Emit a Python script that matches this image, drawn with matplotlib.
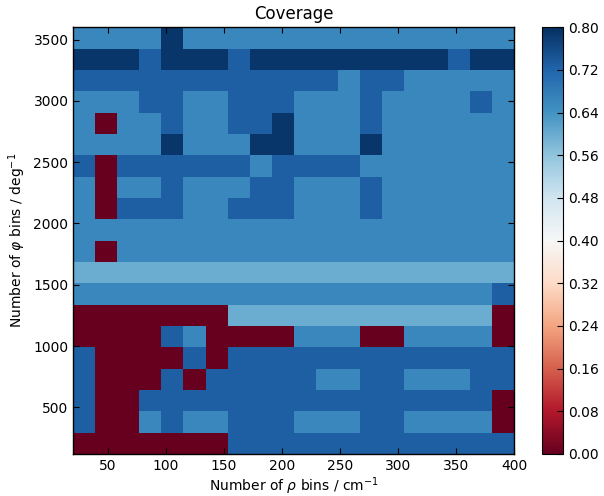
import matplotlib
matplotlib.use('Agg')
import matplotlib.pyplot as plt
import numpy as np

# bin edges of the scan
rho_edges = np.linspace(20, 400, 21)
phi_edges = np.linspace(120, 3600, 21)

# coverage levels found in the scan
R = 0.0
L = 0.60
M = 0.66
D = 0.73
N = 0.79

# rows listed from the largest phi bin count down to the smallest
coverage_rows = [
    [M, M, M, M, N, M, M, M, M, M, M, M, M, M, M, M, M, M, M, M],
    [N, N, N, D, N, N, N, D, N, N, N, N, N, N, N, N, N, D, N, N],
    [D, D, D, D, D, D, D, D, D, D, D, D, M, D, D, M, M, M, M, M],
    [M, M, M, D, D, M, M, D, D, D, M, M, M, D, M, M, M, M, D, M],
    [M, R, M, M, D, M, M, D, D, N, M, M, M, D, M, M, M, M, M, M],
    [M, M, M, M, N, M, M, M, N, N, M, M, M, N, M, M, M, M, M, M],
    [D, R, D, D, D, D, D, D, M, D, D, D, D, M, M, M, M, M, M, M],
    [M, R, M, M, D, M, M, M, D, D, M, M, M, D, M, M, M, M, M, M],
    [M, R, D, D, D, M, M, D, D, D, M, M, M, D, M, M, M, M, M, M],
    [M, M, M, M, M, M, M, M, M, M, M, M, M, M, M, M, M, M, M, M],
    [M, R, M, M, M, M, M, M, M, M, M, M, M, M, M, M, M, M, M, M],
    [L, L, L, L, L, L, L, L, L, L, L, L, L, L, L, L, L, L, L, L],
    [M, M, M, M, M, M, M, M, M, M, M, M, M, M, M, M, M, M, M, D],
    [R, R, R, R, R, R, R, L, L, L, L, L, L, L, L, L, L, L, L, R],
    [R, R, R, R, D, M, R, R, R, R, M, M, M, R, R, M, M, M, M, R],
    [D, R, R, R, R, D, R, D, D, D, D, D, D, D, D, D, D, D, D, D],
    [D, R, R, R, D, R, D, D, D, D, D, M, M, D, D, M, M, M, D, D],
    [D, R, R, D, D, D, D, D, D, D, D, D, D, D, D, D, D, D, D, R],
    [D, R, R, M, D, M, M, D, D, D, M, M, M, D, D, M, M, M, M, R],
    [R, R, R, R, R, R, R, D, D, D, D, D, D, D, D, D, D, D, D, D],
]
coverage = np.array(coverage_rows[::-1])

plt.rcParams['font.size'] = 10
plt.rcParams['xtick.direction'] = 'in'
plt.rcParams['ytick.direction'] = 'in'
plt.rcParams['xtick.top'] = True
plt.rcParams['ytick.right'] = True

fig = plt.figure(figsize=(6.04, 4.96), dpi=100)
ax = fig.add_axes([0.1214, 0.0847, 0.7296, 0.8603])
mesh = ax.pcolormesh(rho_edges, phi_edges, coverage, cmap='RdBu', vmin=0.0, vmax=0.8)

ax.set_xlim(20, 400)
ax.set_ylim(120, 3600)
ax.set_xticks(np.arange(50, 401, 50))
ax.set_yticks(np.arange(500, 3501, 500))
ax.tick_params(length=4, width=0.8)
for sp in ax.spines.values():
    sp.set_linewidth(1.0)

ax.set_title('Coverage', fontsize=12)
ax.set_xlabel(r'Number of $\rho$ bins / cm$^{-1}$', labelpad=2)
ax.set_ylabel(r'Number of $\varphi$ bins / deg$^{-1}$')

cax = fig.add_axes([0.8969, 0.0847, 0.0358, 0.8603])
cbar = fig.colorbar(mesh, cax=cax, ticks=np.linspace(0, 0.8, 11), format='%.2f')
cbar.ax.tick_params(direction='in', length=4, width=0.8, right=True)

fig.savefig('out.png', dpi=100)
